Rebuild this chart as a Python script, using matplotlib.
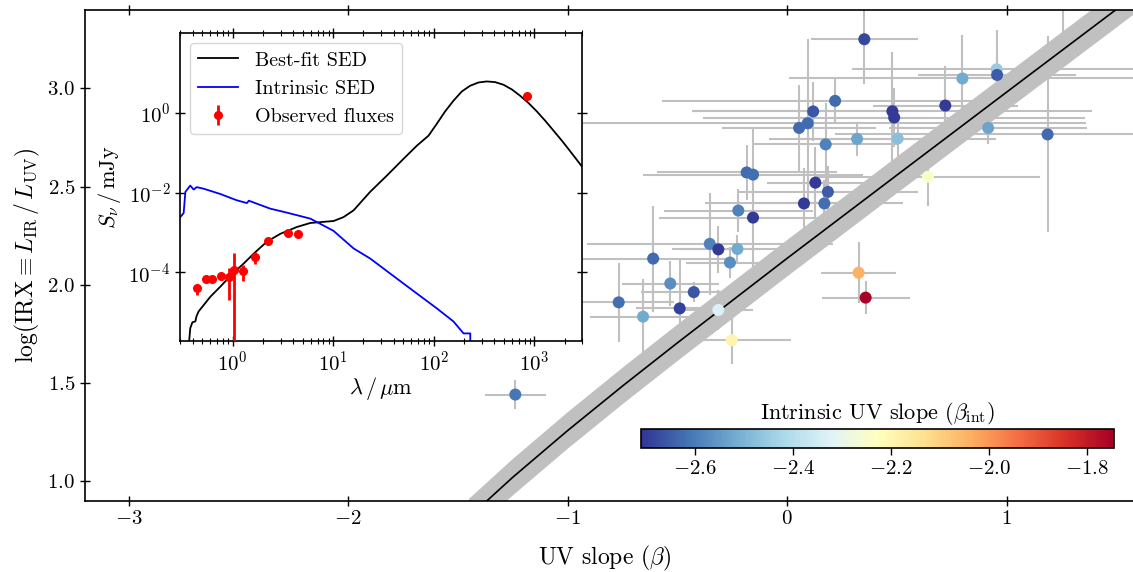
import numpy as np
import matplotlib
matplotlib.use('Agg')
import matplotlib.pyplot as plt
from matplotlib import ticker

plt.rcParams.update({
    'font.family': 'serif',
    'font.serif': ['cmr10'],
    'mathtext.fontset': 'cm',
    'axes.formatter.use_mathtext': True,
})

# ---------------- main IRX-beta data ----------------
beta = [0.351, 0.954, 0.956, 0.798, 0.720, 0.479, 0.487, 0.218, 0.118, 0.093,
        0.054, 0.915, 1.186, 0.318, 0.503, 0.175, 0.641, -0.185, -0.156, 0.128,
        0.185, 0.076, 0.169, -0.223, -0.156, -0.353, -0.314, -0.227, -0.261, -0.611,
        -0.533, -0.426, -0.768, -0.490, -0.657, -0.314, 0.325, 0.357, -0.253, -1.239,
        1.257]
irx = [3.251, 3.098, 3.069, 3.051, 2.913, 2.884, 2.852, 2.937, 2.883, 2.823,
       2.799, 2.799, 2.766, 2.743, 2.745, 2.715, 2.550, 2.572, 2.561, 2.520,
       2.473, 2.414, 2.414, 2.378, 2.342, 2.208, 2.180, 2.182, 2.113, 2.133,
       2.006, 1.962, 1.910, 1.879, 1.837, 1.871, 2.061, 1.934, 1.717, 1.440,
       3.480]
beta_err = [0.245, 0.66, 0.36, 0.79, 0.33, 0.91, 0.87, 0.79, 0.55, 1.27,
            0.35, 0.45, 0.97, 0.40, 0.45, 0.33, 0.51, 0.41, 0.50, 0.22,
            0.41, 0.45, 0.30, 0.34, 0.43, 0.56, 0.18, 0.30, 0.20, 0.35,
            0.22, 0.24, 0.25, 0.20, 0.24, 0.16, 0.17, 0.20, 0.27, 0.14,
            0.30]
irx_err = [0.23, 0.20, 0.12, 0.22, 0.20, 0.30, 0.15, 0.11, 0.15, 0.43,
           0.22, 0.08, 0.50, 0.085, 0.10, 0.21, 0.15, 0.14, 0.24, 0.18,
           0.13, 0.18, 0.12, 0.11, 0.26, 0.26, 0.12, 0.07, 0.08, 0.27,
           0.115, 0.05, 0.20, 0.245, 0.19, 0.10, 0.155, 0.085, 0.12, 0.076,
           0.30]
beta_int = [-2.68, -2.45, -2.65, -2.52, -2.70, -2.70, -2.70, -2.63, -2.66, -2.63,
            -2.63, -2.53, -2.63, -2.53, -2.48, -2.59, -2.24, -2.63, -2.62, -2.70,
            -2.65, -2.70, -2.62, -2.59, -2.70, -2.59, -2.70, -2.52, -2.57, -2.63,
            -2.57, -2.66, -2.62, -2.69, -2.52, -2.33, -2.04, -1.75, -2.19, -2.61,
            -2.60]
cbar_ticks = [-2.6, -2.4, -2.2, -2.0, -1.8]

# relation
rel_beta = [-1.45, -1.25, -1.0, -0.75, -0.5, 0.0, 0.5, 1.0, 1.55, 1.75]
rel_irx = [0.815, 1.019, 1.257, 1.484, 1.704, 2.135, 2.559, 2.982, 3.446, 3.615]
rel_halfwidth = 0.093

# ---------------- inset SED data ----------------
sed_wave = [0.362, 0.379, 0.398, 0.426, 0.437, 0.459, 0.515, 0.600, 0.753, 1.0,
            1.285, 1.618, 2.19, 2.98, 4.36, 5.92, 8.04, 10.1, 12.7, 16.0,
            23.3, 34.2, 50.1, 67.9, 88.7, 107, 130, 157, 190.5, 230,
            279, 337, 408, 494, 598, 723, 876, 1059, 1282, 1552,
            1879, 2275, 3013]
sed_flux = [1e-6, 3.98e-6, 5.6e-6, 5.9e-6, 7.9e-6, 1.05e-5, 1.51e-5, 2.45e-5, 4.37e-5, 9.3e-5,
            1.66e-4, 2.95e-4, 5.9e-4, 9.3e-4, 1.38e-3, 1.74e-3, 1.86e-3, 1.95e-3, 2.45e-3, 3.63e-3,
            1.05e-2, 2.69e-2, 7.1e-2, 0.151, 0.269, 0.531, 1.10, 2.03, 3.48, 4.82,
            5.84, 6.19, 5.96, 5.11, 3.91, 2.71, 1.78, 1.10, 0.643, 0.362,
            0.203, 0.110, 0.0438]
int_wave = [0.302, 0.326, 0.339, 0.379, 0.41, 0.44, 0.515, 0.753, 1.10, 1.387,
            1.45, 2.37, 3.47, 5.92, 7.43, 10.1, 16.0, 23.3, 50.1, 107,
            157, 198, 231, 231]
int_flux = [2.45e-3, 3.09e-3, 1.05e-2, 1.51e-2, 1.2e-2, 1.38e-2, 1.26e-2, 9.3e-3, 6.46e-3, 5.5e-3,
            6.3e-3, 3.98e-3, 3.16e-3, 2.24e-3, 1.66e-3, 1.10e-3, 3.98e-4, 2.24e-4, 5.25e-5, 1.26e-5,
            5.9e-6, 2.95e-6, 2.95e-6, 1e-6]
obs_wave = [0.442, 0.543, 0.623, 0.766, 0.912, 1.023, 1.257, 1.655, 2.23, 3.52, 4.50, 855]
obs_flux = [3.98e-5, 6.68e-5, 6.68e-5, 8.13e-5, 7.50e-5, 1.148e-4, 1.096e-4, 2.45e-4, 6.17e-4,
            9.77e-4, 9.44e-4, 2.66]
obs_err = [1.2e-5, 8e-6, 8e-6, 1.2e-5, 5.5e-5, 1.84e-4, 4.8e-5, 8e-5, 5e-5, 8e-5, 8e-5, 0.15]

# ---------------- figure ----------------
fig = plt.figure(figsize=(11.33, 5.72), dpi=100)
ax = fig.add_axes([0.0749, 0.125, 0.9493, 0.8575])

ax.errorbar(beta, irx, xerr=beta_err, yerr=irx_err, fmt='none', ecolor='#c0c0c0',
            elinewidth=1.5, capsize=0, zorder=1)
rb = np.array(rel_beta)
ri = np.array(rel_irx)
ax.fill_between(rb, ri - rel_halfwidth, ri + rel_halfwidth, color='#c0c0c0', lw=0, zorder=2)
ax.plot(rb, ri, color='k', lw=1.2, zorder=3)
sc = ax.scatter(beta, irx, c=beta_int, cmap='RdYlBu_r', vmin=-2.71, vmax=-1.745,
                s=75, edgecolors='none', zorder=4)

ax.set_xlim(-3.2, 1.7)
ax.set_ylim(0.9, 3.4)
ax.set_xticks([-3, -2, -1, 0, 1])
ax.set_yticks([1.0, 1.5, 2.0, 2.5, 3.0])
ax.tick_params(direction='inout', length=7, width=1, top=True, right=True, labelsize=15)
for s in ax.spines.values():
    s.set_linewidth(1.2)
ax.set_xlabel(r'UV slope $(\beta)$', fontsize=17)
ax.xaxis.set_label_coords(0.4837, -0.088)
ax.set_ylabel(r'$\log(\mathrm{IRX}\equiv L_{\mathrm{IR}}\,/\,L_{\mathrm{UV}})$', fontsize=17)

# colorbar
cax = fig.add_axes([0.5658, 0.2168, 0.4175, 0.0332])
cb = fig.colorbar(sc, cax=cax, orientation='horizontal', ticks=cbar_ticks)
cb.set_label(r'Intrinsic UV slope $(\beta_{\mathrm{int}})$', fontsize=16, labelpad=7)
cax.xaxis.set_label_position('top')
cax.tick_params(direction='out', length=5, width=1, labelsize=15)
cb.outline.set_linewidth(1.2)

# inset
iax = fig.add_axes([0.1589, 0.4038, 0.3550, 0.5380])
iax.set_xscale('log')
iax.set_yscale('log')
iax.plot(sed_wave, sed_flux, color='k', lw=1.3, label='Best-fit SED')
iax.plot(int_wave, int_flux, color='b', lw=1.3, label='Intrinsic SED')
iax.errorbar(obs_wave, obs_flux, yerr=obs_err, fmt='o', color='r', ms=5.5,
             elinewidth=2, capsize=0, label='Observed fluxes', zorder=5)
iax.set_xlim(0.3, 3000)
iax.set_ylim(1.9e-6, 1e2)
iax.set_xticks([1, 10, 100, 1000])
iax.xaxis.set_minor_locator(ticker.LogLocator(base=10, subs=np.arange(2, 10), numticks=20))
iax.set_yticks([1e-4, 1e-2, 1e0])
iax.yaxis.set_minor_locator(ticker.NullLocator())
iax.tick_params(which='major', direction='inout', length=7, width=1, top=True, right=True,
                labelsize=15)
iax.tick_params(which='minor', direction='inout', length=4, width=0.8, top=True, right=True)
for s in iax.spines.values():
    s.set_linewidth(1.2)
iax.set_xlabel(r'$\lambda\,/\,\mu\mathrm{m}$', fontsize=16, labelpad=0)
iax.set_ylabel(r'$S_\nu\,/\,\mathrm{mJy}$', fontsize=16)
iax.legend(loc='upper left', fontsize=14.5)

fig.savefig('out.png', dpi=100)
